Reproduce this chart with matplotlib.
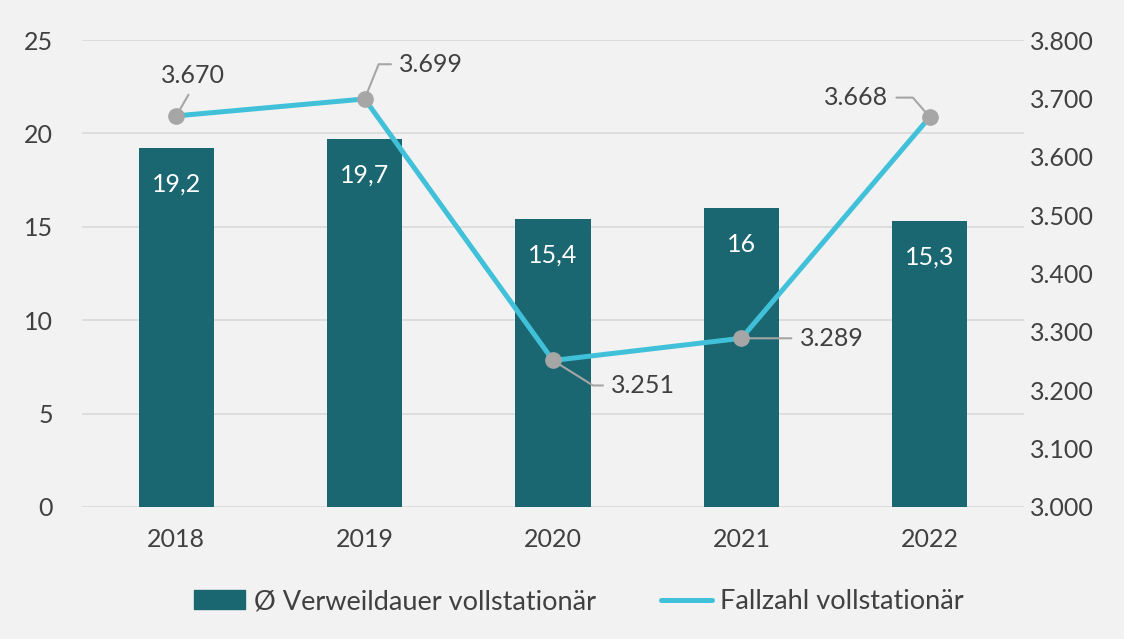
import matplotlib.pyplot as plt
from matplotlib.patches import Patch
from matplotlib.lines import Line2D

plt.rcParams['font.family'] = ['Lato', 'DejaVu Sans']

years = ['2018', '2019', '2020', '2021', '2022']
verweildauer = [19.2, 19.7, 15.4, 16.0, 15.3]
fallzahl = [3670, 3699, 3251, 3289, 3668]

bar_color = '#1a6671'
line_color = '#41c1d9'
text_color = '#404040'
bg = '#f2f2f2'
fs = 18

fig = plt.figure(figsize=(11.24, 6.39), dpi=100, facecolor=bg)
ax = fig.add_axes([0.073, 0.2066, 0.838, 0.7308], facecolor=bg)
ax2 = ax.twinx()

x = range(len(years))
bars = ax.bar(x, verweildauer, width=0.4, color=bar_color, zorder=2)
ax.set_ylim(0, 25)
ax.set_xlim(-0.5, 4.5)
ax.set_yticks([0, 5, 10, 15, 20, 25])
ax.set_xticks(list(x))
ax.set_xticklabels(years)
ax.grid(axis='y', color='#d9d9d9', linewidth=1.2, zorder=0)
ax.set_axisbelow(True)
ax.tick_params(axis='y', length=0, pad=21, labelsize=fs, labelcolor=text_color)
ax.tick_params(axis='x', length=0, pad=15, labelsize=fs, labelcolor=text_color)

for b, v in zip(bars, verweildauer):
    lbl = f'{v:g}'.replace('.', ',')
    ax.annotate(lbl, (b.get_x() + b.get_width() / 2, v), xytext=(0, -26),
                textcoords='offset points', ha='center', va='center',
                color='white', fontsize=fs, zorder=3)

ax2.plot(list(x), fallzahl, color=line_color, linewidth=3.6, marker='o',
         markersize=11, markerfacecolor='#a6a6a6', markeredgecolor='#a6a6a6',
         zorder=4)
ax2.set_ylim(3000, 3800)
ax2.set_yticks(range(3000, 3801, 100))
ax2.set_yticklabels([f'{v:,}'.replace(',', '.') for v in range(3000, 3801, 100)])
ax2.tick_params(axis='y', length=0, pad=4, labelsize=fs, labelcolor=text_color)

for a in (ax, ax2):
    for s in a.spines.values():
        s.set_visible(False)

# offset (points), horizontal alignment, relpos, connection angle
label_specs = [
    ((12, 29), 'center', (0.5, 0.0), None),
    ((25, 25), 'left', (0.0, 0.5), 68),
    ((42, -18), 'left', (0.0, 0.5), -32),
    ((42, 0), 'left', (0.0, 0.5), None),
    ((-30, 14), 'right', (1.0, 0.5), 131),
]
for i, (val, (off, ha, rel, ang)) in enumerate(zip(fallzahl, label_specs)):
    lbl = f'{val:,}'.replace(',', '.')
    cs = 'arc3' if ang is None else f'angle,angleA=0,angleB={ang},rad=0'
    ax2.annotate(lbl, (i, val), xytext=off, textcoords='offset points',
                 ha=ha, va='center', fontsize=fs, color=text_color,
                 arrowprops=dict(arrowstyle='-', color='#a6a6a6', lw=1.5,
                                 relpos=rel, shrinkA=4, shrinkB=4,
                                 connectionstyle=cs),
                 zorder=5)

handles = [Patch(facecolor=bar_color, edgecolor=bar_color),
           Line2D([0], [0], color=line_color, linewidth=3.6, solid_capstyle='round')]
fig.legend(handles, ['Ø Verweildauer vollstationär', 'Fallzahl vollstationär'],
           loc='center', bbox_to_anchor=(0.515, 0.058), ncol=2, frameon=False,
           fontsize=19.5, labelcolor=text_color, handlelength=1.9,
           handleheight=0.7, handletextpad=0.3, columnspacing=2.4)

fig.savefig('out.png', dpi=100, facecolor=bg)
